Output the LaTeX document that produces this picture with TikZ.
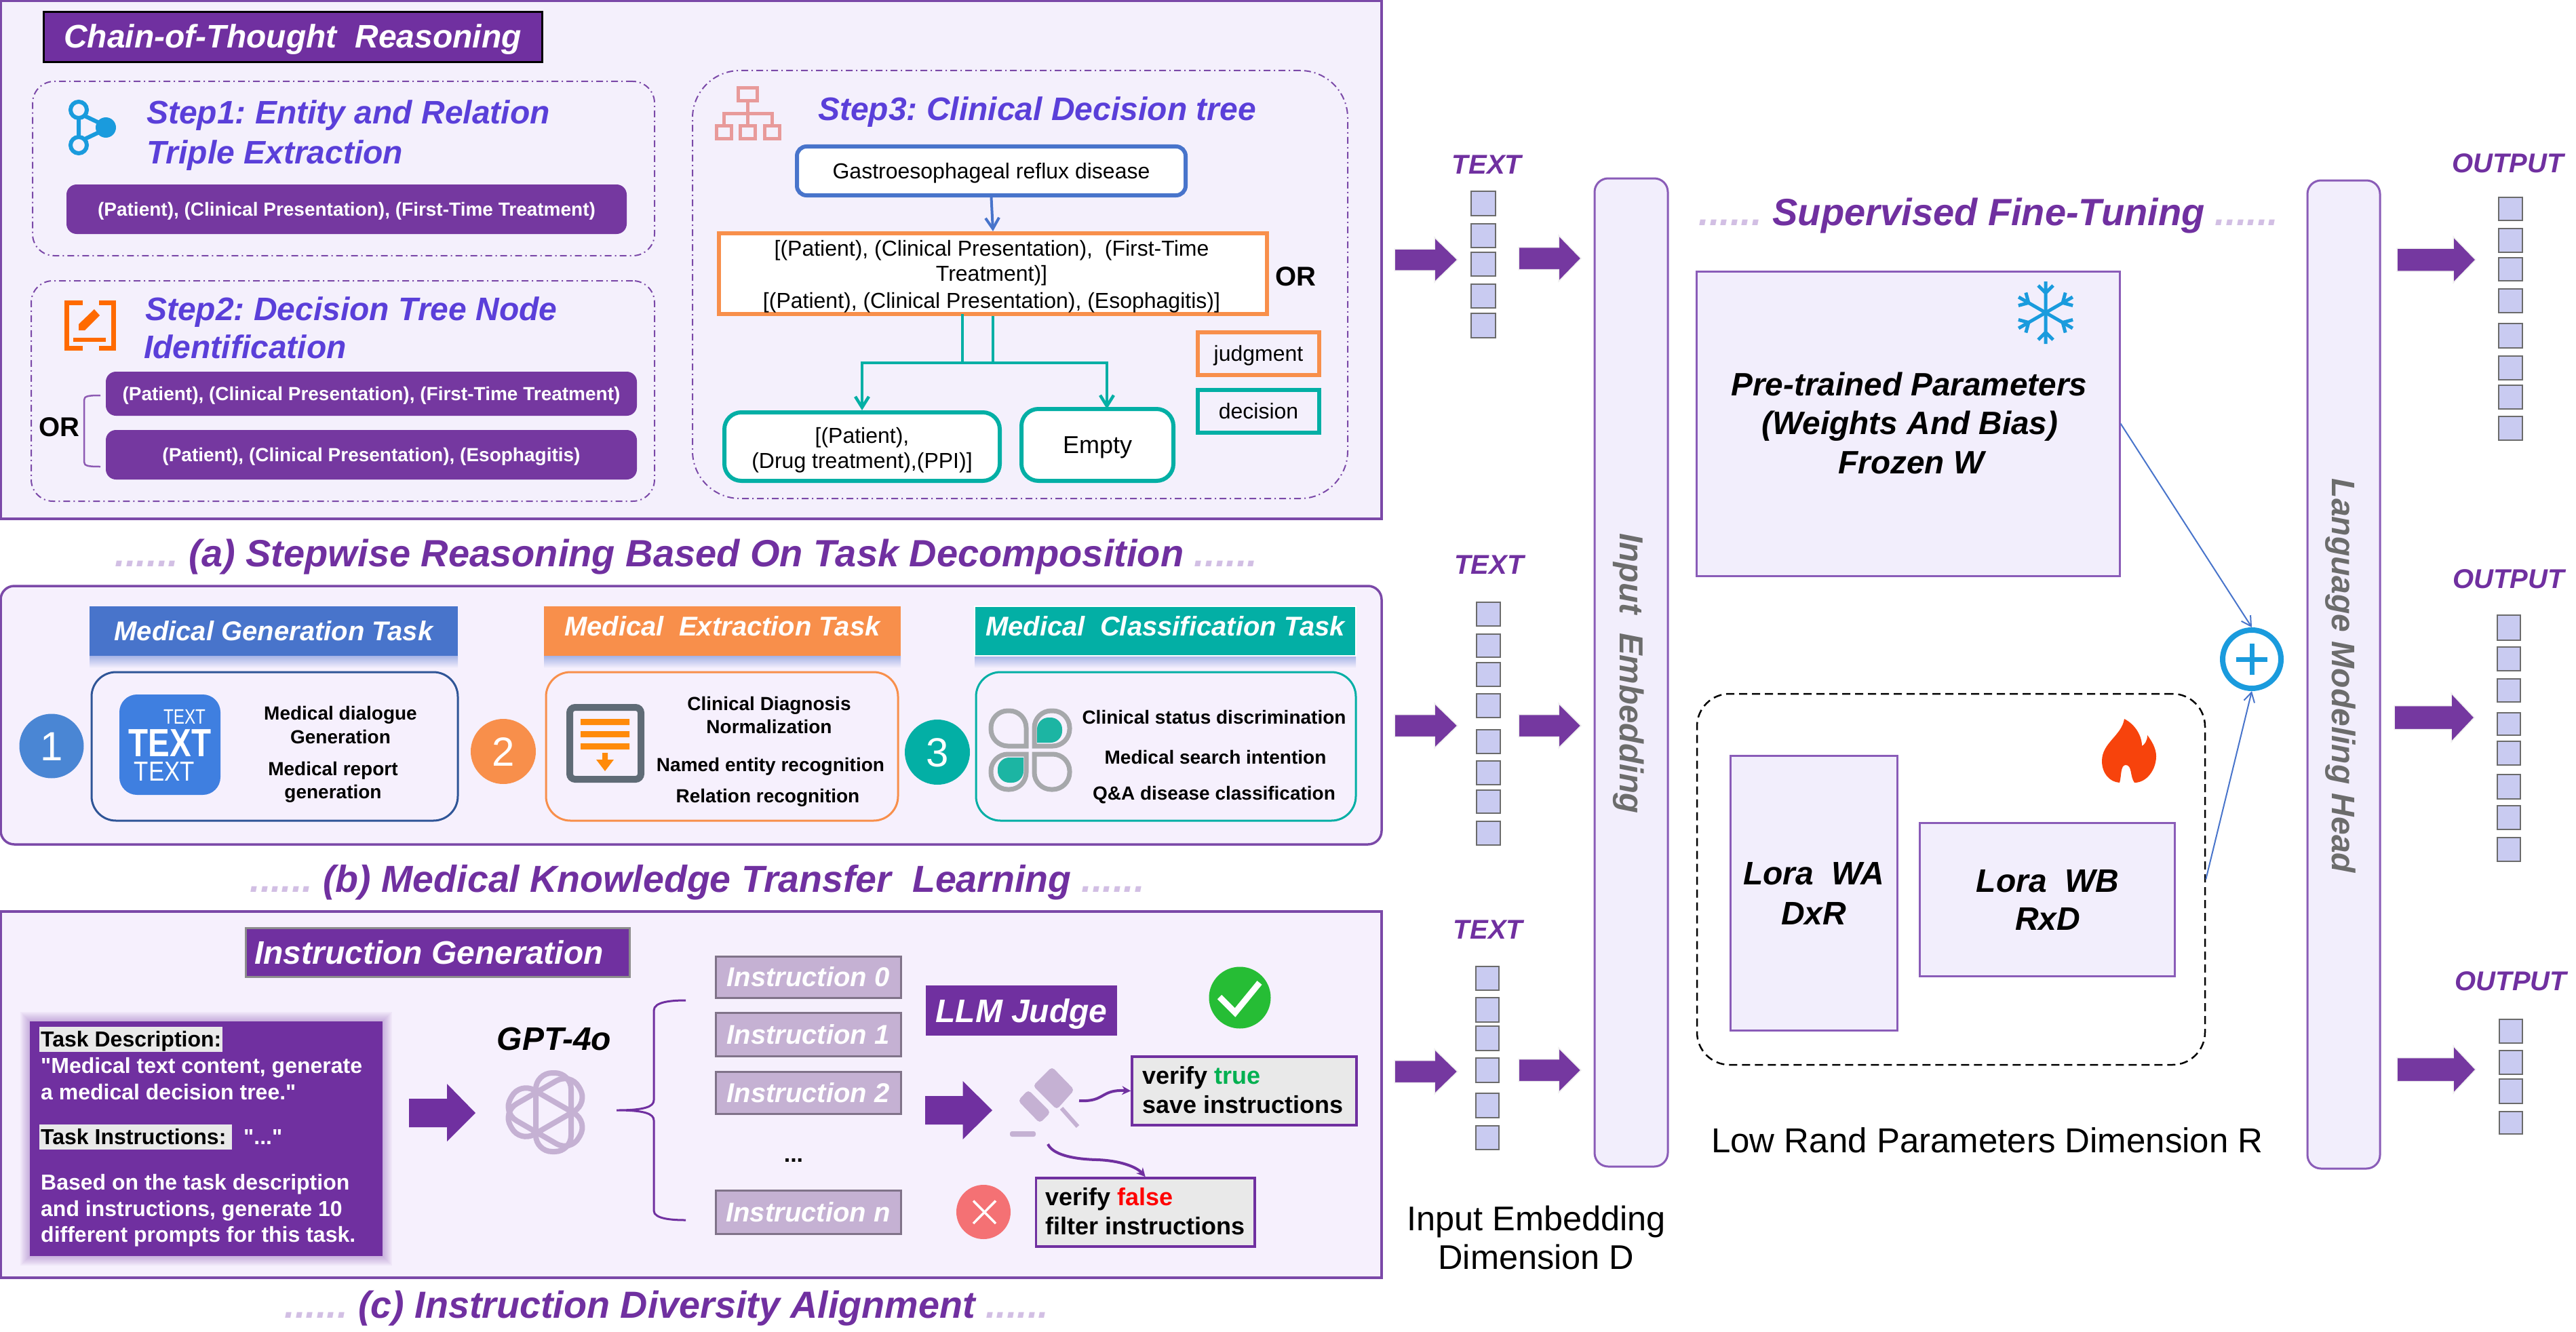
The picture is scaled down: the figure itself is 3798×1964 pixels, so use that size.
\documentclass[tikz,border=0pt]{standalone}
\usepackage{fontspec}
\setmainfont{Liberation Sans}
\newfontfamily\nomapf{Liberation Sans}
\newcommand{\dq}{{\nomapf\bfseries\symbol{34}}}
\usetikzlibrary{arrows.meta,calc}
\definecolor{purp}{HTML}{7030A0}
\definecolor{pill}{HTML}{7538A0}
\definecolor{pstroke}{HTML}{7B49A8}
\definecolor{bstroke}{HTML}{8A5CB8}
\definecolor{panela}{HTML}{F4F0FC}
\definecolor{panelb}{HTML}{F6F0FD}
\definecolor{barf}{HTML}{F2EEFC}
\definecolor{stepc}{HTML}{5A3FD9}
\definecolor{dotc}{HTML}{D2BFE4}
\definecolor{oran}{HTML}{F88F4B}
\definecolor{tealc}{HTML}{03AFA5}
\definecolor{blu}{HTML}{4874CB}
\definecolor{skyb}{HTML}{1A9BDD}
\definecolor{lilac}{HTML}{C5B1D3}
\definecolor{sqf}{HTML}{C9CBF1}
\definecolor{sqs}{HTML}{6B6B6B}
\definecolor{gryt}{HTML}{6C6C6C}
\definecolor{hilite}{HTML}{E9E9E9}
\definecolor{edito}{HTML}{FF6A00}
\definecolor{pinkic}{HTML}{E89A9A}
\definecolor{shadc}{HTML}{A5B3E6}
\definecolor{textic}{HTML}{3F7FE0}
\definecolor{docgr}{HTML}{5F6B76}
\definecolor{docor}{HTML}{FF8A0A}
\definecolor{petalg}{HTML}{A6A8AB}
\definecolor{petalt}{HTML}{1CB5A3}
\definecolor{okg}{HTML}{26BD35}
\definecolor{badr}{HTML}{F47174}
\definecolor{trueg}{HTML}{00B050}
\definecolor{fire}{HTML}{F7430C}
\newcount\tcnt
\newcommand{\fs}[1]{\fontsize{#1}{#1}\selectfont}
\newcommand{\cc}[1]{\rule{0pt}{.716em}\smash{#1}}
\newcommand{\tx}[4][]{\global\advance\tcnt by 1 \node[anchor=base,inner sep=0pt,#1] (t\the\tcnt) at (#2,#3) {#4};}
\newcommand{\bx}[7][]{\node[inner sep=0pt,minimum width={#5-#3},minimum height={#6-#4},#1] (#2) at ({(#3+#5)/2},{(#4+#6)/2}) {\cc{#7}};}
\newcommand{\fat}[6]{\path[fatarrow] ({#1},{#4-#5}) -- ({#2},{#4-#5}) -- ({#2},{#4-#6}) -- ({#3},{#4}) -- ({#2},{#4+#6}) -- ({#2},{#4+#5}) -- ({#1},{#4+#5}) -- cycle;}
\newcommand{\sqr}[4]{\global\advance\tcnt by 1 \node[sqbox,minimum width={#2-#1},minimum height={#4-#3}] (q\the\tcnt) at ({(#1+#2)/2},{(#3+#4)/2}) {};}
\tikzset{
 fbi/.style={font=\fs{#1}\bfseries\itshape},
 fb/.style={font=\fs{#1}\bfseries},
 fr/.style={font=\fs{#1}},
 lft/.style={anchor=base west},
 panelbox/.style={draw=pstroke,line width=3.5pt},
 dashbox/.style={draw=pstroke,line width=2pt,dash pattern=on 10pt off 5pt on 2pt off 5pt,rounded corners=#1},
 pillbox/.style={fill=pill,rounded corners=15pt,fb=28,text=white},
 headbox/.style={fbi=40,text=white},
 tlbox/.style={draw=tealc,line width=6pt,fill=white,rounded corners=25pt},
 orbox/.style={draw=oran,line width=6pt},
 contentbox/.style={line width=3pt,fill=panelb,rounded corners=36pt},
 instbox/.style={fill=lilac,draw=black!35!lilac,line width=3pt,fbi=40,text=white},
 verbox/.style={fill=hilite,draw=purp,line width=3.5pt},
 fatarrow/.style={fill=pill,draw=black!6!white,line width=1.5pt},
 plainfat/.style={fill=purp},
 sqbox/.style={fill=sqf,draw=sqs,line width=2.5pt,inner sep=0pt},
 barbox/.style={fill=barf,draw=bstroke,line width=3pt,rounded corners=20pt},
 parbox/.style={fill=barf,draw=bstroke,line width=3pt},
 petal/.style={draw=petalg,line width=7pt},
 petalfill/.style={fill=petalt},
 thinblue/.style={draw=blu,line width=2pt,-{Straight Barb[length=14pt,width=16pt]}},
 tealline/.style={draw=tealc,line width=4.5pt},
 tealarrow/.style={tealline,-{Straight Barb[length=16pt,width=20pt]}},
 curvearrow/.style={draw=purp,line width=4pt,-{Stealth[length=13pt,width=13pt]}},
}
\begin{document}
\frenchspacing
\begin{tikzpicture}[x=1pt,y=-1pt]
\useasboundingbox (0,0) rectangle (3798,1964);
\fill[white] (0,0) rectangle (3798,1964);
% ---------- panels
\bx[panelbox,fill=panela]{panelA}{1}{1}{2037}{765}{}
\bx[panelbox,fill=panelb,rounded corners=20pt]{panelB}{1}{864}{2037}{1245}{}
\bx[panelbox,fill=panelb]{panelC}{1}{1344}{2037}{1884}{}
% ---------- (a)
\bx[fill=purp,draw=black,line width=3pt,fbi=48,text=white]{title}{64}{18}{799}{92}{\raisebox{2pt}{Chain-of-Thought\ \ Reasoning}}
\bx[dashbox=32pt]{stepA}{48}{120}{965}{377}{}
\bx[dashbox=32pt]{stepB}{46}{414}{965}{739}{}
\bx[dashbox=70pt]{stepC}{1021}{104}{1987}{735}{}
% triple icon
\draw[skyb,line width=6pt] (116,175) -- (116,201) (125,171) -- (146,181) (125,205) -- (146,195);
\draw[skyb,line width=6pt,fill=panela] (116,162) circle[radius=12];
\draw[skyb,line width=6pt,fill=panela] (116,214) circle[radius=12];
\fill[skyb] (156,188) circle[radius=15];
\tx[lft,fbi=48,text=stepc]{216}{183}{Step1: Entity and Relation}
\tx[lft,fbi=48,text=stepc]{216}{241}{Triple Extraction}
\bx[pillbox]{pillA}{98}{272}{924}{345}{(Patient), (Clinical Presentation), (First-Time Treatment)}
% edit icon
\draw[edito,line width=7pt] (122,446) -- (98,446) -- (98,513) -- (122,513);
\draw[edito,line width=7pt] (146,446) -- (167,446) -- (167,513) -- (146,513);
\draw[edito,line width=6pt] (108,501) -- (156,501);
\fill[edito] (116,487) -- (116,478) -- (139,456) -- (147,465) -- (125,487) -- cycle;
\tx[lft,fbi=48,text=stepc]{214}{472}{Step2: Decision Tree Node}
\tx[lft,fbi=48,text=stepc]{212}{528}{Identification}
\bx[pillbox]{pillB}{156}{548}{939}{613}{(Patient), (Clinical Presentation), (First-Time Treatment)}
\bx[pillbox]{pillC}{156}{634}{939}{707}{(Patient), (Clinical Presentation), (Esophagitis)}
\draw[purp!80,line width=2.5pt] (148,583) .. controls (130,583) and (124,584) .. (124,590) -- (124,681) .. controls (124,687) and (130,688) .. (148,688);
\tx[fb=40]{87}{643}{OR}
% hierarchy icon
\draw[pinkic,line width=5pt] (1088.5,129.5) rectangle (1116,149);
\draw[pinkic,line width=5pt] (1056,185.5) rectangle (1078,205);
\draw[pinkic,line width=5pt] (1091.5,185.5) rectangle (1113.5,205);
\draw[pinkic,line width=5pt] (1127.5,185.5) rectangle (1149,205);
\draw[pinkic,line width=5pt] (1102,151) -- (1102,183) (1067,183) -- (1067,168) -- (1138,168) -- (1138,183);
\tx[lft,fbi=48,text=stepc]{1206}{178}{Step3: Clinical Decision tree}
\bx[draw=blu,line width=6pt,fill=white,rounded corners=14pt,fr=32]{gastro}{1175}{216}{1748}{288}{Gastroesophageal reflux disease}
\bx[orbox,fill=white]{orjudge}{1060}{344}{1868}{463}{}
\tx[fr=32]{1462}{377}{[(Patient), (Clinical Presentation),\ \ (First-Time}
\tx[fr=32]{1462}{414}{Treatment)]}
\tx[fr=32]{1462}{454}{[(Patient), (Clinical Presentation), (Esophagitis)]}
\tx[fb=40]{1910}{421}{OR}
\draw[blu,line width=4pt,-{Straight Barb[length=16pt,width=20pt]}] (gastro.south) -- (orjudge.north);
\bx[tlbox]{drug}{1068}{608}{1474}{709}{}
\bx[tlbox,fr=36]{empty}{1506}{603}{1730}{709}{Empty}
\tx[fr=32]{1271}{653}{[(Patient),}
\tx[fr=32]{1271}{690}{(Drug treatment),(PPI)]}
\coordinate (jn) at (1464,535);
\coordinate (jn2) at (1419,535);
\coordinate (st2) at (1419,463);
\coordinate (et) at (1632,603);
\draw[tealline] (orjudge.south) -- (jn);
\draw[tealline] (st2) -- (jn2);
\draw[tealarrow] (jn) -| (drug.north);
\draw[tealarrow] (jn) -| (et);
\bx[orbox,fr=32]{judg}{1766}{490}{1945}{553}{judgment}
\bx[draw=tealc,line width=6pt,fr=32]{deci}{1766}{575}{1945}{638}{decision}
% caption a
\tx[fbi=56,text=purp]{1012}{835}{{\color{dotc}......} (a) Stepwise Reasoning Based On Task Decomposition {\color{dotc}......}}
% ---------- (b)
\shade[top color=shadc,bottom color=panelb] (132,967) rectangle (675,985);
\shade[top color=shadc,bottom color=panelb] (802,967) rectangle (1328,985);
\shade[top color=shadc,bottom color=panelb] (1437,967) rectangle (1999,985);
\bx[fill=blu,headbox]{headG}{132}{894}{675}{967}{Medical Generation Task}
\bx[fill=oran,headbox]{headE}{802}{894}{1328}{967}{\raisebox{7pt}{Medical\ \ Extraction Task}}
\bx[fill=tealc,draw=white,line width=2.5pt,headbox]{headC}{1437}{894}{1999}{967}{\raisebox{7pt}{Medical\ \ Classification Task}}
\bx[contentbox,draw={rgb,255:red,47;green,85;blue,151}]{boxG}{135}{991}{675}{1210}{}
\bx[contentbox,draw=oran]{boxE}{805}{991}{1324}{1210}{}
\bx[contentbox,draw=tealc]{boxC}{1439}{991}{1999}{1210}{}
\node[circle,fill={rgb,255:red,74;green,134;blue,212},minimum size=95pt,inner sep=0pt,text=white,fr=60] (num1) at (76,1100) {\cc{1}};
\node[circle,fill=oran,minimum size=96pt,inner sep=0pt,text=white,fr=60] (num2) at (742,1108) {\cc{2}};
\node[circle,fill=tealc,minimum size=96pt,inner sep=0pt,text=white,fr=60] (num3) at (1382,1109) {\cc{3}};
% text icon
\bx[fill=textic,rounded corners=26pt]{texticon}{176}{1024}{325}{1172}{}
\tx[fr=30.7,text=white]{272}{1067}{\scalebox{.79}[1]{TEXT}}
\tx[fb=58,text=white]{250.5}{1115}{\scalebox{.82}[1]{TEXT}}
\tx[fr=40.5,text=white]{242.5}{1151}{\scalebox{.86}[1]{TEXT}}
\tx[fb=28]{502}{1061}{Medical dialogue}
\tx[fb=28]{502}{1096}{Generation}
\tx[fb=28]{491}{1143}{Medical report}
\tx[fb=28]{491}{1177}{generation}
% doc icon
\draw[docgr,line width=10pt,rounded corners=8pt] (840,1043) rectangle (945,1149);
\fill[docor] (856,1060) rectangle (928,1069) (856,1078) rectangle (928,1087) (856,1096) rectangle (928,1105);
\fill[docor] (888,1110) -- (896,1110) -- (896,1120) -- (905,1120) -- (892,1137) -- (879,1120) -- (888,1120) -- cycle;
\tx[fb=28]{1134}{1047}{Clinical Diagnosis}
\tx[fb=28]{1134}{1081}{Normalization}
\tx[fb=28]{1136}{1137}{Named entity recognition}
\tx[fb=28]{1132}{1183}{Relation recognition}
% clover icon
\draw[petal] (1513,1100) [rounded corners=25pt] -- (1461,1100) -- (1461,1048) -- (1513,1048) [sharp corners] -- cycle;
\draw[petal] (1525,1100) [rounded corners=25pt] -- (1577,1100) -- (1577,1048) -- (1525,1048) [sharp corners] -- cycle;
\draw[petal] (1513,1112) [rounded corners=25pt] -- (1461,1112) -- (1461,1164) -- (1513,1164) [sharp corners] -- cycle;
\draw[petal] (1525,1112) [rounded corners=25pt] -- (1577,1112) -- (1577,1164) -- (1525,1164) [sharp corners] -- cycle;
\fill[petalfill] (1529,1095) [rounded corners=17pt] -- (1566,1095) -- (1566,1058) -- (1529,1058) [sharp corners] -- cycle;
\fill[petalfill] (1509,1117) [rounded corners=17pt] -- (1471,1117) -- (1471,1154) -- (1509,1154) [sharp corners] -- cycle;
\tx[fb=28]{1790}{1067.5}{Clinical status discrimination}
\tx[fb=28]{1792}{1126}{Medical search intention}
\tx[fb=28]{1790}{1179}{Q\&A disease classification}
\tx[fbi=55.5,text=purp]{1028}{1315}{{\color{dotc}......} (b) Medical Knowledge Transfer\ \ Learning {\color{dotc}......}}
% ---------- (c)
\bx[fill=purp,draw=black!45!white,line width=3pt,fbi=48,text=white]{headI}{362}{1368}{928}{1440}{Instruction Generation\hspace{25pt}}
\foreach \i in {1,...,7} {\fill[purp,opacity=.05] ({44-2*\i},{1506-2*\i}) rectangle ({564+2*\i},{1852+2*\i});}
\bx[fill=purp]{taskbox}{44}{1506}{564}{1852}{}
\bx[fill=hilite]{hlA}{58}{1514}{328}{1551}{}
\bx[fill=hilite]{hlB}{58}{1658}{342}{1695}{}
\tx[lft,fb=32]{60}{1543}{Task Description:}
\tx[lft,fb=32,text=white]{60}{1582}{\dq Medical text content, generate}
\tx[lft,fb=32,text=white]{60}{1621}{a medical decision tree.\dq}
\tx[lft,fb=32]{60}{1687}{Task Instructions:}
\tx[lft,fb=32,text=white]{359}{1687}{\dq...\dq}
\tx[lft,fb=32,text=white]{60}{1754.5}{Based on the task description}
\tx[lft,fb=32,text=white]{60}{1793.5}{and instructions, generate 10}
\tx[lft,fb=32,text=white]{60}{1831}{different prompts for this task.}
\path[plainfat] (603,1620) -- (659,1620) -- (659,1598) -- (701,1641) -- (659,1683) -- (659,1662) -- (603,1662) -- cycle;
\tx[fbi=48]{817}{1548}{GPT-4o}
% openai-like logo
\foreach \a in {0,120,240} {\draw[lilac,line width=8pt,rounded corners=24pt,rotate around={\a:(808,1640)}] (790,1582) rectangle (842,1698);}
% brace
\draw[purp,line width=3pt] (1011,1475) .. controls (990,1475) and (964,1477) .. (964,1490) -- (964,1622) .. controls (964,1632) and (950,1637) .. (909,1637) .. controls (950,1637) and (964,1642) .. (964,1652) -- (964,1785) .. controls (964,1797) and (990,1799) .. (1011,1799);
\bx[instbox]{inst0}{1055}{1410}{1328}{1471}{Instruction 0}
\bx[instbox]{inst1}{1055}{1493}{1328}{1557}{Instruction 1}
\bx[instbox]{inst2}{1055}{1580}{1328}{1642}{Instruction 2}
\bx[instbox]{instn}{1055}{1755}{1328}{1819}{Instruction n}
\tx[fb=34]{1170}{1713}{...}
\bx[fill=purp,fbi=48,text=white]{llm}{1365}{1453}{1647}{1527}{LLM Judge}
\node[circle,fill=okg,minimum size=91pt,inner sep=0pt] (okc) at (1828,1471) {};
\draw[white,line width=9pt] (1798,1470) -- (1821,1493) -- (1857,1449);
\path[plainfat] (1364,1616) -- (1419.5,1616) -- (1419.5,1594) -- (1463,1637) -- (1419.5,1680) -- (1419.5,1658) -- (1364,1658) -- cycle;
% gavel
\fill[lilac,rounded corners=5pt] (1551,1573) -- (1584,1607) -- (1558,1636) -- (1523,1601) -- cycle;
\fill[lilac,rounded corners=5pt] (1516,1607) -- (1549,1640) -- (1533,1656) -- (1501,1623) -- cycle;
\draw[lilac,line width=6pt] (1565,1634) -- (1589,1661);
\fill[lilac,rounded corners=3pt] (1489,1668) rectangle (1527,1676);
\coordinate (gv1) at (1591,1623);
\coordinate (gv2) at (1545,1687);
\bx[verbox]{vtrue}{1669}{1558}{2000}{1659}{}
\bx[verbox]{vfalse}{1527.5}{1737}{1850}{1838}{}
\tx[lft,fb=36]{1684}{1598}{verify {\color{trueg}true}}
\tx[lft,fb=36]{1684}{1641}{save instructions}
\tx[lft,fb=36]{1541.5}{1777}{verify {\color{red}false}}
\tx[lft,fb=36]{1541.5}{1820}{filter instructions}
\draw[curvearrow] (gv1) .. controls (1630,1625) and (1622,1606) .. (vtrue.west);
\draw[curvearrow] (gv2) .. controls (1552,1702) and (1580,1709) .. (1617,1710) .. controls (1650,1711) and (1675,1720) .. (vfalse.north);
\node[circle,fill=badr,minimum size=80pt,inner sep=0pt] (badc) at (1450,1787) {};
\draw[white,line width=3.5pt] (1435,1770.5) -- (1468,1804) (1468,1770.5) -- (1435,1804);
\tx[fbi=55.7,text=purp]{983}{1943}{{\color{dotc}......} (c) Instruction Diversity Alignment {\color{dotc}......}}
% ---------- right part
\tx[fbi=40,text=purp]{2192}{256}{TEXT}
\tx[fbi=40,text=purp]{2195.5}{846.5}{TEXT}
\tx[fbi=40,text=purp]{2194}{1384}{TEXT}
\foreach \a/\b in {282/318,330/365,372/407,419/454,462/498} {\sqr{2169}{2205}{\a}{\b}}
\foreach \a/\b in {888/923,935/969,977/1012,1023/1058,1076/1111,1122/1157,1165/1199,1211/1246} {\sqr{2177}{2212}{\a}{\b}}
\foreach \a/\b in {1425/1460,1471/1507,1513/1549,1560/1596,1612/1648,1660/1695} {\sqr{2176}{2210}{\a}{\b}}
\fat{2056}{2115}{2149}{383}{16}{33}
\fat{2239}{2298}{2331}{381}{16.5}{34}
\fat{2056}{2115}{2149}{1070}{16.5}{33}
\fat{2239}{2298}{2331}{1070}{16.5}{33}
\fat{2056}{2115}{2149}{1580}{16.5}{33}
\fat{2239}{2298}{2331}{1578}{16.5}{33}
\bx[barbox]{inputbar}{2351}{263}{2459}{1720}{}
\node[rotate=-90,inner sep=0pt,fbi=49,text=gryt] (inputlab) at (2406,993) {\cc{Input\ \ Embedding}};
\tx[fr=50.5]{2265}{1814}{Input Embedding}
\tx[fr=50.5]{2265}{1871.5}{Dimension D}
\tx[fbi=56,text=purp]{2932}{332}{{\color{dotc}......} Supervised Fine-Tuning {\color{dotc}......}}
\bx[parbox]{pretrained}{2501}{400}{3125}{849}{}
\tx[fbi=47.7]{2815}{583}{Pre-trained Parameters}
\tx[fbi=47.7]{2816}{640}{(Weights And Bias)}
\tx[fbi=47.7]{2818}{698}{Frozen W}
% snowflake
\foreach \a in {0,60,...,300} {\draw[skyb,line width=5pt,rotate around={\a:(3016,461)}] (3016,461) -- (3016,415) (3016,432) -- (3005,421) (3016,432) -- (3027,421);}
\node[circle,draw=skyb,line width=8pt,minimum size=86pt,inner sep=0pt] (plus) at (3320,972) {};
\draw[skyb,line width=7pt] (3297,972) -- (3343,972) (3320,949) -- (3320,995);
\bx[draw=black,line width=2.5pt,dash pattern=on 12pt off 7pt,rounded corners=48pt]{lowrank}{2502}{1023}{3251}{1570}{}
\bx[parbox]{lorawa}{2551}{1114}{2797}{1519}{}
\bx[parbox]{lorawb}{2830}{1213}{3206}{1439.5}{}
\tx[fbi=48]{2674}{1304}{Lora\ \ WA}
\tx[fbi=48]{2674}{1363}{DxR}
\tx[fbi=48]{3019}{1315}{Lora\ \ WB}
\tx[fbi=48]{3019}{1371}{RxD}
\fill[fire] (3132,1060) .. controls (3128,1085) and (3099,1095) .. (3099,1122) .. controls (3099,1140) and (3110,1153) .. (3125,1154) .. controls (3128,1145) and (3126,1128) .. (3134,1128) .. controls (3144,1128) and (3140,1145) .. (3147,1154) .. controls (3165,1154) and (3179,1135) .. (3179,1115) .. controls (3179,1103) and (3172,1092) .. (3166,1084) .. controls (3166,1092) and (3162,1098) .. (3158,1100) .. controls (3158,1085) and (3148,1068) .. (3132,1060) -- cycle;
\draw[thinblue] (pretrained.east) -- (plus.north);
\draw[thinblue] (lowrank.east) -- (plus.south);
\tx[fr=51]{2930}{1699.5}{Low Rand Parameters Dimension R}
\bx[barbox]{langbar}{3402}{266}{3509}{1723}{}
\node[rotate=-90,inner sep=0pt,fbi=48,text=gryt] (langlab) at (3455.5,996.5) {\cc{Language Modeling Head}};
\tx[fbi=40,text=purp]{3697.5}{254.6}{OUTPUT}
\tx[fbi=40,text=purp]{3698.5}{867}{OUTPUT}
\tx[fbi=40,text=purp]{3702}{1460}{OUTPUT}
\foreach \a/\b in {291/325,337/372,380/414,426/461,477/513,525/560,568/603,614/649} {\sqr{3684}{3719}{\a}{\b}}
\foreach \a/\b in {907/944,954/989,1001/1035,1051/1084,1093/1128,1142/1178,1188/1223,1235/1270} {\sqr{3682}{3716}{\a}{\b}}
\foreach \a/\b in {1503/1538,1549/1584,1591/1627,1639/1672} {\sqr{3685}{3719}{\a}{\b}}
\fat{3534}{3617}{3650}{383}{17}{34}
\fat{3530}{3614}{3648}{1058}{17.5}{36}
\fat{3534}{3617}{3650}{1577}{17.5}{35}
\end{tikzpicture}
\end{document}
